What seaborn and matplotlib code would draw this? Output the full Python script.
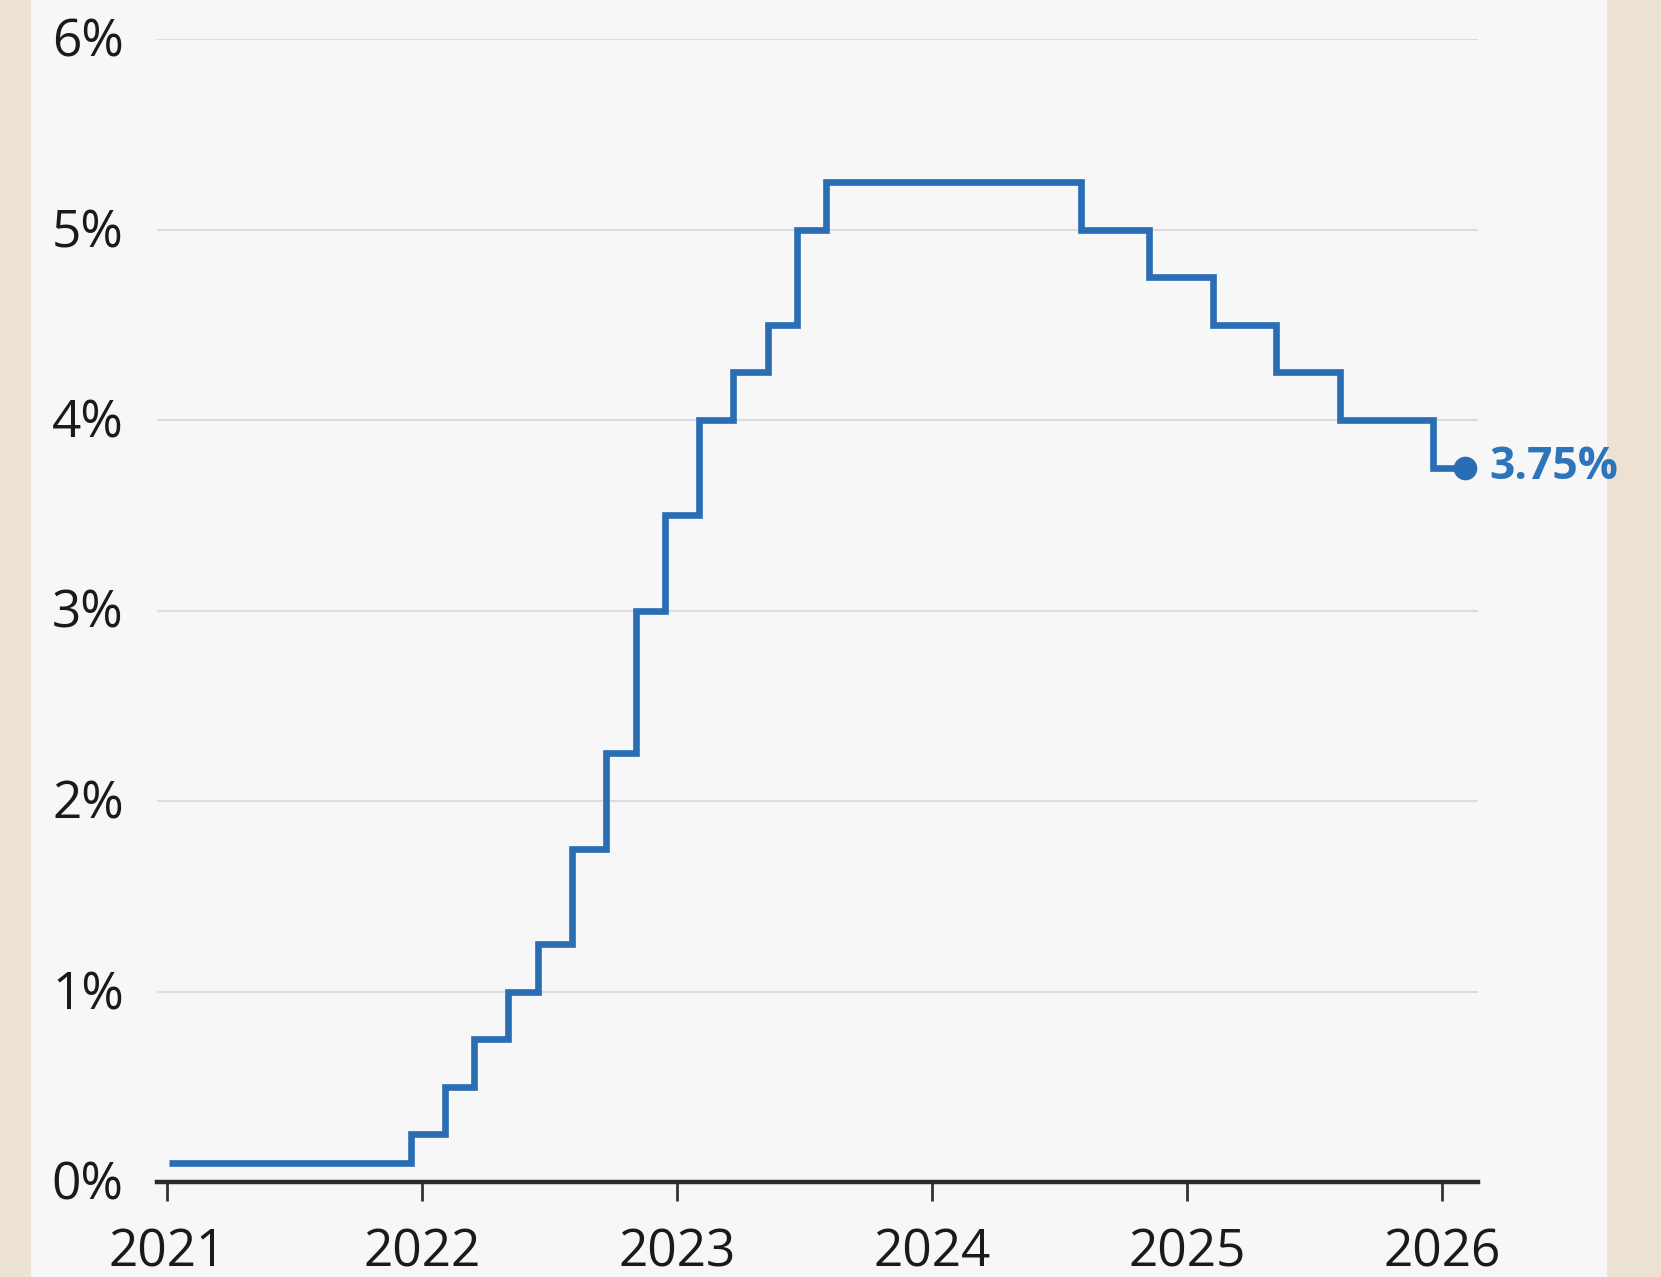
import matplotlib
matplotlib.use("Agg")
import matplotlib.pyplot as plt
from matplotlib.patches import Rectangle
from matplotlib.ticker import FuncFormatter
from matplotlib.transforms import ScaledTranslation
import pandas as pd
import seaborn as sns

# Bank rate decisions (date of change, new rate %)
change_dates = ["2021-01-04", "2021-12-16", "2022-02-03", "2022-03-17", "2022-05-05",
                "2022-06-16", "2022-08-04", "2022-09-22", "2022-11-03", "2022-12-15",
                "2023-02-02", "2023-03-23", "2023-05-11", "2023-06-22", "2023-08-03",
                "2024-08-01", "2024-11-07", "2025-02-06", "2025-05-08", "2025-08-07",
                "2025-12-18", "2026-02-03"]
rates = [0.10, 0.25, 0.50, 0.75, 1.00,
         1.25, 1.75, 2.25, 3.00, 3.50,
         4.00, 4.25, 4.50, 5.00, 5.25,
         5.00, 4.75, 4.50, 4.25, 4.00,
         3.75, 3.75]
y_ticks = [0, 1, 2, 3, 4, 5, 6]
x_tick_years = [2021, 2022, 2023, 2024, 2025, 2026]
last_label = "3.75%"

df = pd.DataFrame({"date": pd.to_datetime(change_dates), "rate": rates})

sns.set_theme(style="white")
plt.rcParams["font.family"] = ["Open Sans", "DejaVu Sans"]

W, H = 1661, 1277
fig = plt.figure(figsize=(W / 100, H / 100), dpi=100)
fig.patch.set_facecolor("#ede1d1")
panel = Rectangle((31 / W, 0), (1607 - 31) / W, 1, transform=fig.transFigure,
                  facecolor="#f7f7f7", edgecolor="none", zorder=-10)
fig.patches.append(panel)

ax = fig.add_axes([157 / W, 1 - 1182 / H, (1478 - 157) / W, (1182 - 39) / H])
ax.set_zorder(1)
ax.patch.set_alpha(0)

line_color = "#2a6db5"
sns.lineplot(data=df, x="date", y="rate", ax=ax, drawstyle="steps-post",
             color=line_color, linewidth=4.8, zorder=3, clip_on=False,
             solid_joinstyle="miter", solid_capstyle="butt")
ax.plot(df["date"].iloc[-1], df["rate"].iloc[-1], "o", color=line_color,
        markersize=16, zorder=4, clip_on=False)
ax.annotate(last_label, (df["date"].iloc[-1], df["rate"].iloc[-1]),
            xytext=(17, 0), textcoords="offset points", ha="left", va="center",
            fontsize=32, fontweight="bold", color="#2d74bb", annotation_clip=False)

ax.set_xlim(pd.Timestamp("2020-12-18"), pd.Timestamp("2026-02-21"))
ax.set_ylim(0, 6)
ax.set_yticks(y_ticks)
ax.yaxis.set_major_formatter(FuncFormatter(lambda v, p: f"{int(v)}%"))
ax.set_xticks([pd.Timestamp(f"{y}-01-01") for y in x_tick_years])
ax.set_xticklabels([str(y) for y in x_tick_years])

for v in y_ticks[1:]:
    ax.axhline(v, color="#dcdcdc", linewidth=1.5, zorder=1)

for s in ["top", "right", "left"]:
    ax.spines[s].set_visible(False)
ax.spines["bottom"].set_color("#2b2b2b")
ax.spines["bottom"].set_linewidth(3.2)
ax.spines["bottom"].set_zorder(5)

ax.tick_params(axis="x", which="major", direction="out", length=14, width=2,
               color="#333333", pad=19, labelsize=37, labelcolor="#1a1a1a", bottom=True)
ax.tick_params(axis="y", length=0, pad=24, labelsize=37, labelcolor="#1a1a1a")
shift = ScaledTranslation(0, -4 / 100, fig.dpi_scale_trans)
for lab in ax.get_yticklabels():
    lab.set_verticalalignment("center")
    lab.set_transform(lab.get_transform() + shift)

ax.set_xlabel("")
ax.set_ylabel("")
ax.grid(False)

fig.savefig("out.png", dpi=100, facecolor=fig.get_facecolor())
